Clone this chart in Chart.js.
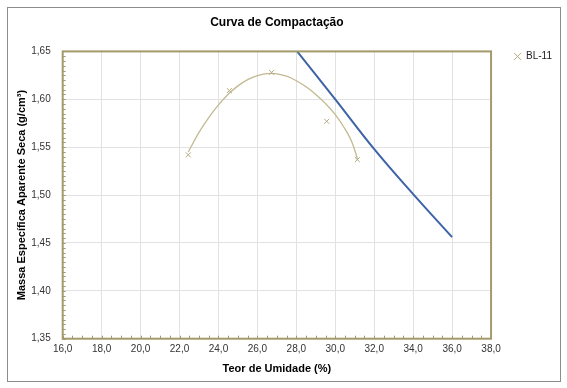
<!DOCTYPE html>
<html>
<head>
<meta charset="utf-8">
<script src="https://cdn.jsdelivr.net/npm/chart.js@4.4.1/dist/chart.umd.min.js"></script>
<style>
  html, body { margin: 0; padding: 0; background: #fff; }
  #wrap { width: 567px; height: 388px; }
</style>
</head>
<body>
<div id="wrap"><canvas id="grafico"></canvas></div>
<script>
// pontos do ensaio BL-11
const teorUmidade = [22.45, 24.56, 26.73, 29.56, 31.13];
const massaEspecifica = [1.542, 1.609, 1.628, 1.577, 1.537];

// curva ajustada
const curvaX = [22.45, 23.0, 23.5, 24.0, 24.5, 25.0, 25.5, 26.0, 26.5, 27.0, 27.5, 28.0, 28.5, 29.0, 29.5, 30.0, 30.5, 30.85, 31.15];
const curvaY = [1.545, 1.5654, 1.5809, 1.5942, 1.6052, 1.614, 1.6205, 1.6248, 1.6268, 1.6266, 1.6241, 1.6194, 1.613, 1.605, 1.5955, 1.584, 1.569, 1.5555, 1.537];

// curva de saturacao
const saturacaoX = [28, 30, 32, 34, 36];
const saturacaoY = [1.651, 1.600, 1.548, 1.501, 1.456];

const xMin = 16, xMax = 38, xStep = 2;
const yMin = 1.35, yMax = 1.65, yStep = 0.05;

const toXY = (xs, ys) => xs.map((x, i) => ({ x: x, y: ys[i] }));
const virgula = (v, d) => v.toFixed(d).replace('.', ',');

const corEixo = '#a39a6c';
const corGrade = '#e2e2e2';

// posiciona titulo e legenda como no Excel
const ajustePlugin = {
  id: 'ajuste',
  afterLayout(chart) {
    const a = chart.chartArea;
    const t = chart.titleBlock;
    if (t) { t.left = a.left; t.right = a.right; }
    const lg = chart.legend;
    if (lg) {
      const w = lg.right - lg.left;
      lg.left = a.right + 13;
      lg.right = lg.left + w;
      const h = lg.bottom - lg.top;
      lg.top = a.top - 10;
      lg.bottom = lg.top + h;
    }
  }
};

// moldura externa, borda da area de plotagem e tracinhos dos eixos
const molduraPlugin = {
  id: 'moldura',
  afterDraw(chart) {
    const ctx = chart.ctx;
    const a = chart.chartArea;
    const sx = chart.scales.x, sy = chart.scales.y;
    ctx.save();
    ctx.strokeStyle = '#8c8c8c';
    ctx.lineWidth = 1;
    ctx.strokeRect(7.5, 7.5, 553, 374);

    ctx.strokeStyle = corEixo;
    ctx.lineWidth = 1;
    for (let v = xMin; v <= xMax + 1e-9; v += 0.5) {
      const px = Math.round(sx.getPixelForValue(v)) + 0.5;
      ctx.beginPath();
      ctx.moveTo(px, a.bottom);
      ctx.lineTo(px, a.bottom - 3);
      ctx.stroke();
    }
    for (let v = yMin; v <= yMax + 1e-9; v += 0.005) {
      const py = Math.round(sy.getPixelForValue(v)) + 0.5;
      ctx.beginPath();
      ctx.moveTo(a.left, py);
      ctx.lineTo(a.left + 3, py);
      ctx.stroke();
    }
    ctx.lineWidth = 2;
    ctx.strokeRect(a.left, a.top, a.right - a.left, a.bottom - a.top);
    ctx.restore();
  }
};

new Chart(document.getElementById('grafico'), {
  type: 'scatter',
  data: {
    datasets: [
      {
        label: 'BL-11',
        data: toXY(teorUmidade, massaEspecifica),
        showLine: false,
        pointStyle: 'crossRot',
        pointRadius: 3.5,
        pointBorderWidth: 1,
        borderColor: '#b3aa80',
        backgroundColor: '#b3aa80',
        order: 1
      },
      {
        label: 'curva',
        data: toXY(curvaX, curvaY),
        showLine: true,
        pointRadius: 0,
        borderColor: '#c2b991',
        borderWidth: 1.3,
        tension: 0.4,
        order: 2
      },
      {
        label: 'saturacao',
        data: toXY(saturacaoX, saturacaoY),
        showLine: true,
        pointRadius: 0,
        borderColor: '#3d64a6',
        borderWidth: 2,
        tension: 0.4,
        order: 3
      }
    ]
  },
  options: {
    responsive: true,
    maintainAspectRatio: false,
    animation: false,
    devicePixelRatio: 1,
    layout: { padding: { left: 8, right: 18, top: 8, bottom: 8 } },
    plugins: {
      title: {
        display: true,
        text: 'Curva de Compactação',
        color: '#000',
        font: { family: 'Liberation Sans, Arial', size: 12, weight: 'bold' },
        padding: { top: 7, bottom: 22 }
      },
      legend: {
        position: 'right',
        align: 'start',
        labels: {
          filter: item => item.text === 'BL-11',
          usePointStyle: true,
          pointStyle: 'crossRot',
          boxWidth: 7,
          boxHeight: 7,
          padding: 10,
          color: '#222',
          font: { family: 'Liberation Sans, Arial', size: 10 }
        }
      },
      tooltip: { enabled: false }
    },
    scales: {
      x: {
        type: 'linear',
        min: xMin,
        max: xMax,
        afterFit: s => { s.height = 41.3; },
        ticks: {
          stepSize: 0.5,
          autoSkip: false,
          maxRotation: 0,
          padding: 5,
          color: '#333',
          font: { family: 'Liberation Sans, Arial', size: 10 },
          callback: v => (Math.abs(v % xStep) < 1e-6 ? virgula(v, 1) : '')
        },
        grid: {
          drawTicks: false,
          color: c => (Math.abs(c.tick.value % xStep) < 1e-6 ? corGrade : 'rgba(0,0,0,0)')
        },
        border: { display: false },
        title: {
          display: true,
          text: 'Teor de Umidade (%)',
          color: '#000',
          font: { family: 'Liberation Sans, Arial', size: 11, weight: 'bold' },
          padding: { top: 4, bottom: 4 }
        }
      },
      y: {
        type: 'linear',
        min: yMin,
        max: yMax,
        afterFit: s => { s.width = 54.7; },
        ticks: {
          stepSize: yStep,
          padding: 12,
          color: '#333',
          font: { family: 'Liberation Sans, Arial', size: 10 },
          callback: v => virgula(v, 2)
        },
        grid: { drawTicks: false, color: corGrade },
        border: { display: false },
        title: {
          display: true,
          text: 'Massa Específica Aparente Seca (g/cm³)',
          color: '#000',
          font: { family: 'Liberation Sans, Arial', size: 11, weight: 'bold' },
          padding: { top: 7, bottom: 4 }
        }
      }
    }
  },
  plugins: [ajustePlugin, molduraPlugin]
});
</script>
</body>
</html>
